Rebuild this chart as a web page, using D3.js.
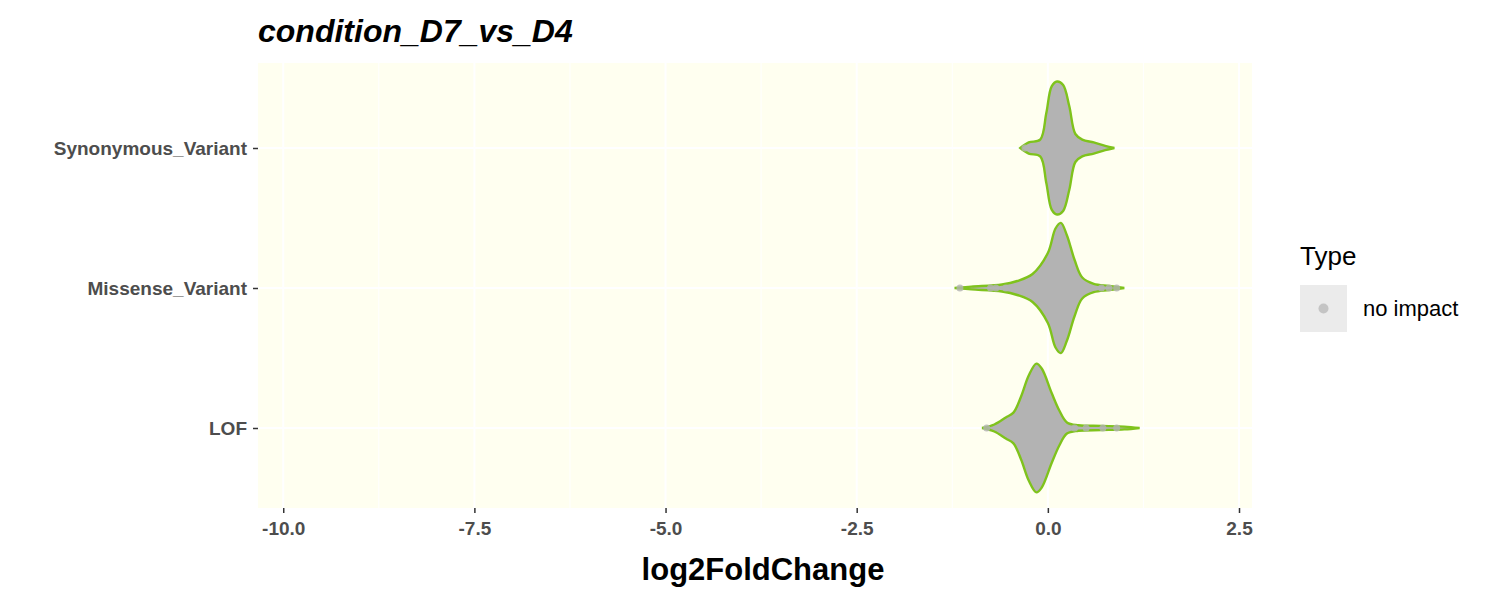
<!DOCTYPE html>
<html><head><meta charset="utf-8">
<script src="https://cdn.jsdelivr.net/npm/d3@7"></script>
<style>body{margin:0;background:#fff}</style>
</head><body><div id="chart"></div>
<script>
const categories = ['Synonymous_Variant', 'Missense_Variant', 'LOF'];
const xTicks = [-10, -7.5, -5, -2.5, 0, 2.5];
// violin profiles: log2FC positions and relative half-width (0..1)
const synX = [-0.36, -0.25, -0.1, -0.02, 0.05, 0.12, 0.2, 0.28, 0.36, 0.45, 0.6, 0.75, 0.87];
const synW = [0, 0.08, 0.12, 0.5, 0.88, 0.95, 0.9, 0.6, 0.2, 0.12, 0.08, 0.03, 0];
const misX = [-1.22, -1.0, -0.6, -0.4, -0.2, 0, 0.1, 0.17, 0.25, 0.35, 0.45, 0.6, 0.8, 1.0];
const misW = [0, 0.02, 0.05, 0.1, 0.2, 0.5, 0.85, 0.93, 0.75, 0.4, 0.15, 0.06, 0.03, 0];
const lofX = [-0.86, -0.7, -0.55, -0.45, -0.35, -0.25, -0.15, -0.08, 0.05, 0.15, 0.25, 0.4, 0.7, 1.0, 1.2];
const lofW = [0, 0.05, 0.15, 0.22, 0.45, 0.75, 0.92, 0.85, 0.5, 0.25, 0.08, 0.04, 0.03, 0.02, 0];
// tail points (log2FC) drawn on top
const synPts = [-0.3, -0.2, 0.5, 0.6];
const misPts = [-1.15, -0.75, -0.68, -0.55, 0.7, 0.8, 0.9];
const lofPts = [-0.8, 0.35, 0.5, 0.72, 0.9];

const profiles = [[synX, synW, synPts], [misX, misW, misPts], [lofX, lofW, lofPts]];

const W = 1500, H = 600;
const m = {left: 258, right: 1252, top: 63, bottom: 508};
const font = 'Liberation Sans, Arial, sans-serif';
const svg = d3.select('#chart').append('svg').attr('width', W).attr('height', H)
  .style('font-family', font);

const x = d3.scaleLinear().domain([-10.33, 2.67]).range([m.left, m.right]);
const y = d3.scalePoint().domain(categories).range([148, 428]);

svg.append('rect').attr('x', m.left).attr('y', m.top)
  .attr('width', m.right - m.left).attr('height', m.bottom - m.top).attr('fill', '#fffff0');

const minor = d3.range(-8.75, 2.6, 2.5);
svg.selectAll('.gmin').data(minor).join('line')
  .attr('x1', d => x(d)).attr('x2', d => x(d)).attr('y1', m.top).attr('y2', m.bottom)
  .attr('stroke', '#fff').attr('stroke-width', 1);
svg.selectAll('.gmaj').data(xTicks).join('line')
  .attr('x1', d => x(d)).attr('x2', d => x(d)).attr('y1', m.top).attr('y2', m.bottom)
  .attr('stroke', '#fff').attr('stroke-width', 2);
svg.selectAll('.gh').data(categories).join('line')
  .attr('x1', m.left).attr('x2', m.right).attr('y1', d => y(d)).attr('y2', d => y(d))
  .attr('stroke', '#fff').attr('stroke-width', 2);

const halfMax = 70;
profiles.forEach(([xs, ws, pts], i) => {
  const cy = y(categories[i]);
  const data = xs.map((v, j) => ({v, w: ws[j]}));
  const area = d3.area().curve(d3.curveCatmullRom)
    .x(d => x(d.v)).y0(d => cy - d.w * halfMax).y1(d => cy + d.w * halfMax);
  svg.append('path').datum(data).attr('d', area)
    .attr('fill', '#b3b3b3').attr('stroke', '#7fc31c').attr('stroke-width', 2.4);
  svg.selectAll(null).data(pts).join('circle')
    .attr('cx', d => x(d)).attr('cy', cy).attr('r', 3.5)
    .attr('fill', '#b3b3b3').attr('opacity', 0.8);
});

const xa = svg.append('g').attr('transform', `translate(0,${m.bottom})`)
  .call(d3.axisBottom(x).tickValues(xTicks).tickFormat(d => d3.format('.1f')(d).replace('−', '-')).tickSize(5));
xa.select('.domain').remove();
xa.selectAll('line').attr('stroke', '#333').attr('stroke-width', 1.5);
xa.selectAll('text').attr('font-size', 19).attr('font-weight', 'bold').attr('fill', '#4d4d4d')
  .attr('font-family', font).attr('dy', '1.0em');

const ya = svg.append('g').attr('transform', `translate(${m.left},0)`)
  .call(d3.axisLeft(y).tickSize(5).tickPadding(6));
ya.select('.domain').remove();
ya.selectAll('line').attr('stroke', '#333').attr('stroke-width', 1.5);
ya.selectAll('text').attr('font-size', 19).attr('font-weight', 'bold').attr('fill', '#4d4d4d')
  .attr('font-family', font);

svg.append('text').attr('x', 258).attr('y', 42).text('condition_D7_vs_D4')
  .attr('font-size', 32).attr('font-weight', 'bold').attr('font-style', 'italic');
svg.append('text').attr('x', (m.left + m.right) / 2 + 8).attr('y', 580).attr('text-anchor', 'middle')
  .text('log2FoldChange').attr('font-size', 31).attr('font-weight', 'bold');

const lg = svg.append('g');
lg.append('text').attr('x', 1300).attr('y', 265).text('Type').attr('font-size', 26);
lg.append('rect').attr('x', 1300).attr('y', 285).attr('width', 47).attr('height', 47).attr('fill', '#ebebeb');
lg.append('circle').attr('cx', 1323.5).attr('cy', 308.5).attr('r', 5).attr('fill', '#b3b3b3').attr('opacity', 0.7);
lg.append('text').attr('x', 1363).attr('y', 316).text('no impact').attr('font-size', 22);
</script></body></html>
